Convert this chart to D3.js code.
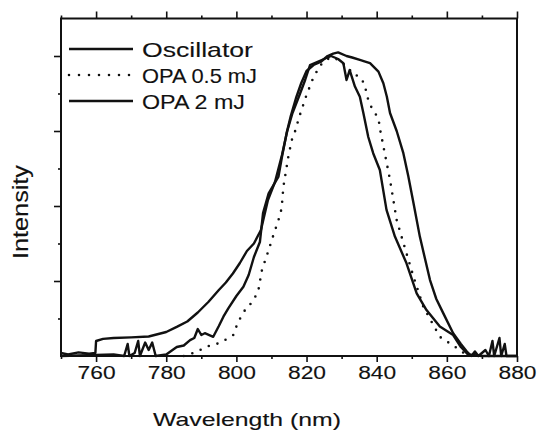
<!DOCTYPE html>
<html>
<head>
<meta charset="utf-8">
<script src="https://cdn.jsdelivr.net/npm/d3@7"></script>
<style>
  body { margin: 0; background: #fff; }
  text { font-family: "Liberation Sans", Arial, sans-serif; fill: #111; stroke: #111; stroke-width: 0.12; }
</style>
</head>
<body>
<div id="chart"></div>
<script>
// wavelength (nm) / normalised intensity
var oscWl = [750, 752, 755, 758, 759.8, 760, 762, 765, 770, 775, 780, 783, 786, 789, 792, 795, 797, 799, 801, 803, 805, 807, 809, 811, 813, 814.5, 816, 818, 819.6, 821, 823, 825, 827, 829, 830.5, 831.4, 832.3, 833.8, 835.2, 836.2, 837.6, 839, 840.9, 842.8, 845.2, 848.5, 851.4, 854.2, 858, 861.8, 864, 866, 870, 880];
var oscI  = [0.01, 0.005, 0.012, 0.008, 0.01, 0.05, 0.057, 0.06, 0.062, 0.065, 0.08, 0.097, 0.115, 0.145, 0.18, 0.22, 0.245, 0.275, 0.31, 0.35, 0.375, 0.42, 0.52, 0.58, 0.67, 0.75, 0.81, 0.87, 0.92, 0.97, 0.98, 0.99, 1.0, 0.99, 0.976, 0.92, 0.953, 0.898, 0.864, 0.81, 0.73, 0.676, 0.62, 0.487, 0.398, 0.309, 0.209, 0.153, 0.098, 0.07, 0.03, 0.005, 0.0, 0.0];

var opaLowWl = [785, 788.7, 791.5, 794.8, 797, 799.1, 800.5, 803, 804.3, 806.2, 806.7, 807.3, 809.2, 810.1, 812, 812.9, 813.4, 814.8, 815.8, 816.7, 818, 820, 822, 824, 826, 828, 829.5, 831.9, 832.9, 835.2, 836.7, 837.1, 838.6, 840.5, 841, 843.8, 845.7, 848.5, 850.5, 853.3, 858, 863.7, 866];
var opaLowI  = [0.0, 0.014, 0.031, 0.042, 0.055, 0.07, 0.114, 0.164, 0.176, 0.214, 0.248, 0.287, 0.353, 0.387, 0.453, 0.492, 0.564, 0.664, 0.72, 0.748, 0.8, 0.87, 0.93, 0.97, 0.99, 0.995, 0.98, 0.964, 0.942, 0.931, 0.903, 0.87, 0.826, 0.792, 0.753, 0.587, 0.453, 0.342, 0.264, 0.164, 0.064, 0.02, 0.0];

var opaHighWl = [750, 765, 768, 769, 769.5, 771, 772, 772.5, 774, 775, 776, 777, 780, 783, 785, 786.8, 788, 789, 790, 791, 793.4, 795, 796.3, 797.7, 800, 802, 803.5, 805, 806.7, 807.6, 809.2, 812, 813, 814.3, 815.5, 817, 818.5, 820, 822, 824, 826, 827.6, 829, 831.4, 833, 835.2, 836.5, 838.1, 839.3, 840.5, 841.9, 842.9, 843.8, 845.7, 847.6, 849, 850.5, 852.3, 855.2, 857, 859, 861.8, 864, 865.7, 867, 868, 869, 871, 872, 873, 873.5, 875, 875.5, 876.5, 877, 880];
var opaHighI  = [0.0, 0.005, 0.0, 0.04, 0.0, 0.01, 0.05, 0.0, 0.045, 0.02, 0.045, 0.0, 0.005, 0.03, 0.035, 0.053, 0.06, 0.09, 0.07, 0.076, 0.064, 0.1, 0.131, 0.159, 0.2, 0.231, 0.27, 0.33, 0.38, 0.476, 0.542, 0.598, 0.664, 0.742, 0.8, 0.86, 0.91, 0.95, 0.97, 0.98, 1.0, 1.008, 1.012, 1.0, 0.995, 0.987, 0.982, 0.976, 0.962, 0.948, 0.909, 0.864, 0.81, 0.75, 0.676, 0.6, 0.509, 0.398, 0.253, 0.19, 0.142, 0.076, 0.04, 0.015, 0.0, 0.015, 0.0, 0.02, 0.0, 0.05, 0.0, 0.06, 0.0, 0.04, 0.0, 0.0];

var xMajor = [760, 780, 800, 820, 840, 860, 880];
var xMinor = [750, 770, 790, 810, 830, 850, 870];
var yMajor = [0.25, 0.5, 0.75, 1.0];
var yMinor = [0.125, 0.375, 0.625, 0.875];

var legendNames = ["Oscillator", "OPA 0.5 mJ", "OPA 2 mJ"];

function zip(a, b) {
    return a.map(function (d, i) { return [d, b[i]]; });
}

var series = [
    { name: legendNames[0], pts: zip(oscWl, oscI), dotted: false },
    { name: legendNames[1], pts: zip(opaLowWl, opaLowI), dotted: true },
    { name: legendNames[2], pts: zip(opaHighWl, opaHighI), dotted: false }
];

var width = 542, height = 437;
// plot frame (window.top is reserved, so keep these in an object)
var frame = { "left": 61, "right": 517, "top": 18.5, "bottom": 356 };

var svg = d3.select("#chart").append("svg")
    .attr("width", width)
    .attr("height", height);

var x = d3.scaleLinear().domain([750, 880]).range([frame.left, frame.right]);
var y = d3.scaleLinear().domain([0, 1.125]).range([frame.bottom, frame.top]);

// ticks, all pointing out of the frame
function styleAxis(g) {
    g.select(".domain").remove();
    g.selectAll(".tick line").attr("stroke", "#111").attr("stroke-width", 1.6);
}

svg.append("g")
    .attr("transform", "translate(0," + frame.bottom + ")")
    .call(d3.axisBottom(x).tickValues(xMajor).tickSize(6).tickPadding(4).tickFormat(d3.format("d")))
    .call(styleAxis)
    .selectAll("text")
    .attr("font-size", 18)
    .attr("fill", "#111")
    .attr("textLength", 38)
    .attr("lengthAdjust", "spacingAndGlyphs")
    .attr("x", -19)
    .style("text-anchor", "start");

svg.append("g")
    .attr("transform", "translate(0," + frame.bottom + ")")
    .call(d3.axisBottom(x).tickValues(xMinor).tickSize(3).tickFormat(""))
    .call(styleAxis);

svg.append("g")
    .attr("transform", "translate(0," + frame.top + ")")
    .call(d3.axisTop(x).tickValues(xMajor).tickSize(7).tickFormat(""))
    .call(styleAxis);

svg.append("g")
    .attr("transform", "translate(0," + frame.top + ")")
    .call(d3.axisTop(x).tickValues(xMinor).tickSize(3).tickFormat(""))
    .call(styleAxis);

svg.append("g")
    .attr("transform", "translate(" + frame.left + ",0)")
    .call(d3.axisLeft(y).tickValues(yMajor).tickSize(7).tickFormat(""))
    .call(styleAxis);

svg.append("g")
    .attr("transform", "translate(" + frame.left + ",0)")
    .call(d3.axisLeft(y).tickValues(yMinor).tickSize(3).tickFormat(""))
    .call(styleAxis);

// frame
svg.append("rect")
    .attr("x", frame.left)
    .attr("y", frame.top)
    .attr("width", frame.right - frame.left)
    .attr("height", frame.bottom - frame.top)
    .attr("fill", "none")
    .attr("stroke", "#111")
    .attr("stroke-width", 2);

var line = d3.line()
    .x(function (d) { return x(d[0]); })
    .y(function (d) { return y(d[1]); });

svg.selectAll("path.curve")
    .data(series)
    .enter()
    .append("path")
    .attr("class", "curve")
    .attr("d", function (d) { return line(d.pts); })
    .attr("fill", "none")
    .attr("stroke", "#111")
    .attr("stroke-width", function (d) { return d.dotted ? 2.6 : 2.4; })
    .attr("stroke-linecap", function (d) { return d.dotted ? "round" : "butt"; })
    .attr("stroke-linejoin", "round")
    .attr("stroke-dasharray", function (d) { return d.dotted ? "0,9" : null; });

// legend
var legend = svg.selectAll("g.legend")
    .data(series)
    .enter()
    .append("g")
    .attr("class", "legend")
    .attr("transform", function (d, i) { return "translate(0," + (49 + i * 26) + ")"; });

legend.append("line")
    .attr("x1", 69)
    .attr("x2", 133)
    .attr("stroke", "#111")
    .attr("stroke-width", function (d) { return d.dotted ? 2.6 : 2.4; })
    .attr("stroke-linecap", function (d) { return d.dotted ? "round" : "butt"; })
    .attr("stroke-dasharray", function (d) { return d.dotted ? "0,10" : null; });

var legendLen = [111, 115, 103];
legend.append("text")
    .attr("x", 142)
    .attr("y", 7.5)
    .attr("font-size", 21)
    .attr("textLength", function (d, i) { return legendLen[i]; })
    .attr("lengthAdjust", "spacingAndGlyphs")
    .text(function (d) { return d.name; });

svg.append("text")
    .attr("x", 153)
    .attr("y", 426)
    .attr("font-size", 19)
    .attr("textLength", 188)
    .attr("lengthAdjust", "spacingAndGlyphs")
    .text("Wavelength (nm)");

svg.append("text")
    .attr("transform", "translate(28,212) rotate(-90)")
    .attr("x", -47)
    .attr("font-size", 22)
    .attr("textLength", 94)
    .attr("lengthAdjust", "spacingAndGlyphs")
    .text("Intensity");
</script>
</body>
</html>
